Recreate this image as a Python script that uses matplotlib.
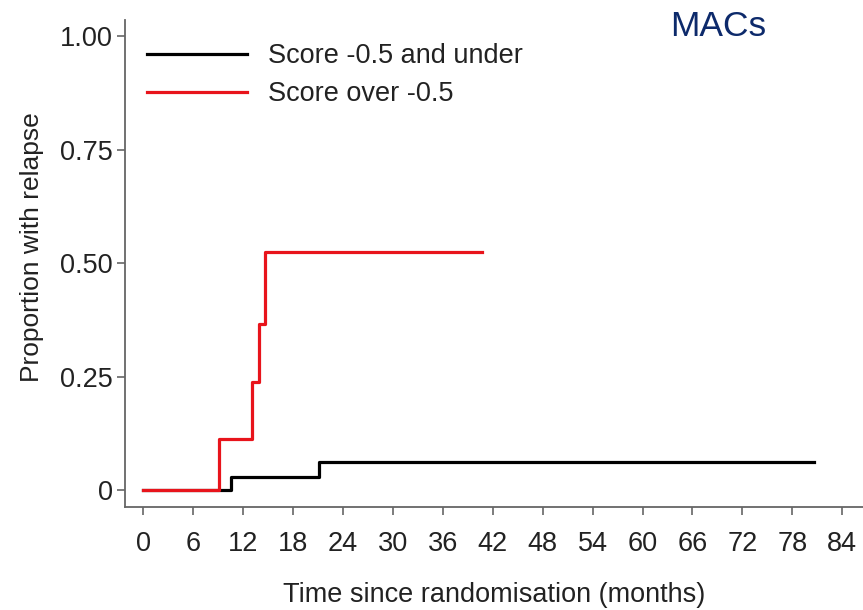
import matplotlib.pyplot as plt

plt.rcParams['font.family'] = ['Liberation Sans', 'DejaVu Sans']

# step points: time (months) and cumulative proportion relapsed
low_t = [0, 10.5, 21.1, 80.6]
low_p = [0, 0.029, 0.062, 0.062]
high_t = [0, 9.1, 13.0, 13.9, 14.6, 40.7]
high_p = [0, 0.112, 0.238, 0.366, 0.525, 0.525]

x_ticks = list(range(0, 85, 6))
y_ticks = [0, 0.25, 0.5, 0.75, 1.0]
y_labels = ['0', '0.25', '0.50', '0.75', '1.00']

fig = plt.figure(figsize=(8.63, 6.10), dpi=100)
ax = fig.add_axes([0.145, 0.169, 0.855, 0.798])

ax.step(low_t, low_p, where='post', color='black', lw=2.3, label='Score -0.5 and under')
ax.step(high_t, high_p, where='post', color='#e8141b', lw=2.3, label='Score over -0.5')

ax.set_xlim(-2.2, 86.5)
ax.set_ylim(-0.037, 1.035)
ax.set_xticks(x_ticks)
ax.set_yticks(y_ticks)
ax.set_yticklabels(y_labels)

for s in ['top', 'right']:
    ax.spines[s].set_visible(False)
for s in ['left', 'bottom']:
    ax.spines[s].set_color('#666666')
    ax.spines[s].set_linewidth(1.3)
ax.tick_params(length=6, width=1.2, color='#666666', labelsize=19.5, labelcolor='#222222')
ax.tick_params(axis='x', pad=11)
ax.tick_params(axis='y', pad=3)

ax.set_xlabel('Time since randomisation (months)', fontsize=19.5, color='#222222')
ax.set_ylabel('Proportion with relapse', fontsize=19, color='#222222')
ax.xaxis.set_label_coords(0.50, -0.155)
ax.yaxis.set_label_coords(-0.110, 0.534)

leg = ax.legend(loc='upper left', bbox_to_anchor=(0.0298, 0.953), frameon=False, fontsize=19.5,
                borderpad=0, borderaxespad=0,
                handlelength=3.7, handletextpad=0.75, labelspacing=0.46)
for t in leg.get_texts():
    t.set_color('#222222')

fig.text(0.776, 0.957, 'MACs', fontsize=25.5, color='#0d2a6b', va='center', ha='left')

fig.savefig('out.png', dpi=100)
